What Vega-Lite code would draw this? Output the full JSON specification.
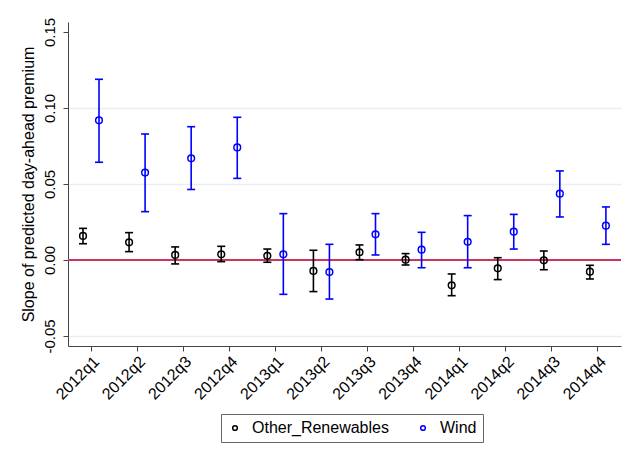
{
  "$schema": "https://vega.github.io/schema/vega-lite/v6.json",
  "width": 553,
  "height": 324,
  "autosize": {"type": "none"},
  "padding": {"left": 68, "top": 22, "right": 10, "bottom": 119},
  "background": "white",
  "config": {
    "view": {"stroke": null},
    "font": "Liberation Sans"
  },
  "data": {
    "values": [
      {"quarter": "2012q1", "series": "Other_Renewables", "est": 0.0158, "lo": 0.0107, "hi": 0.0208},
      {"quarter": "2012q2", "series": "Other_Renewables", "est": 0.0116, "lo": 0.0055, "hi": 0.0180},
      {"quarter": "2012q3", "series": "Other_Renewables", "est": 0.0033, "lo": -0.0026, "hi": 0.0086},
      {"quarter": "2012q4", "series": "Other_Renewables", "est": 0.0037, "lo": -0.0011, "hi": 0.0090},
      {"quarter": "2013q1", "series": "Other_Renewables", "est": 0.0028, "lo": -0.0015, "hi": 0.0072},
      {"quarter": "2013q2", "series": "Other_Renewables", "est": -0.0072, "lo": -0.0208, "hi": 0.0064},
      {"quarter": "2013q3", "series": "Other_Renewables", "est": 0.0051, "lo": 0.0002, "hi": 0.0099},
      {"quarter": "2013q4", "series": "Other_Renewables", "est": 0.0002, "lo": -0.0033, "hi": 0.0042},
      {"quarter": "2014q1", "series": "Other_Renewables", "est": -0.0167, "lo": -0.0235, "hi": -0.0092},
      {"quarter": "2014q2", "series": "Other_Renewables", "est": -0.0055, "lo": -0.0129, "hi": 0.0015},
      {"quarter": "2014q3", "series": "Other_Renewables", "est": -0.0002, "lo": -0.0064, "hi": 0.0059},
      {"quarter": "2014q4", "series": "Other_Renewables", "est": -0.0077, "lo": -0.0125, "hi": -0.0035},
      {"quarter": "2012q1", "series": "Wind", "est": 0.0919, "lo": 0.0643, "hi": 0.1189},
      {"quarter": "2012q2", "series": "Wind", "est": 0.0575, "lo": 0.0318, "hi": 0.0829},
      {"quarter": "2012q3", "series": "Wind", "est": 0.0669, "lo": 0.0464, "hi": 0.0877},
      {"quarter": "2012q4", "series": "Wind", "est": 0.0741, "lo": 0.0537, "hi": 0.0939},
      {"quarter": "2013q1", "series": "Wind", "est": 0.0037, "lo": -0.0226, "hi": 0.0305},
      {"quarter": "2013q2", "series": "Wind", "est": -0.0079, "lo": -0.0257, "hi": 0.0103},
      {"quarter": "2013q3", "series": "Wind", "est": 0.0169, "lo": 0.0033, "hi": 0.0305},
      {"quarter": "2013q4", "series": "Wind", "est": 0.0068, "lo": -0.0051, "hi": 0.0182},
      {"quarter": "2014q1", "series": "Wind", "est": 0.0120, "lo": -0.0051, "hi": 0.0292},
      {"quarter": "2014q2", "series": "Wind", "est": 0.0186, "lo": 0.0072, "hi": 0.0300},
      {"quarter": "2014q3", "series": "Wind", "est": 0.0436, "lo": 0.0283, "hi": 0.0586},
      {"quarter": "2014q4", "series": "Wind", "est": 0.0226, "lo": 0.0103, "hi": 0.0349}
    ]
  },
  "layer": [
    {
      "data": {"values": [{"ref": 0}]},
      "mark": {"type": "rule", "color": "#c8365c", "strokeWidth": 2},
      "encoding": {
        "y": {
          "field": "ref", "type": "quantitative",
          "scale": {"domain": [-0.0566, 0.1566], "nice": false, "zero": false},
          "axis": {
            "title": "Slope of predicted day-ahead premium",
            "titleFontSize": 16, "titleFontWeight": "normal", "titleColor": "black", "titlePadding": 6,
            "values": [-0.05, 0, 0.05, 0.1, 0.15],
            "labelExpr": "replace(format(datum.value, '.2f'), '−', '-')",
            "labelAngle": 270, "labelAlign": "center", "labelBaseline": "bottom",
            "labelFontSize": 15, "labelColor": "black", "labelPadding": 6,
            "tickSize": 5, "tickColor": "#444", "domainColor": "#444",
            "grid": true, "gridColor": "#e6eff1", "gridWidth": 1.5,
            "gridOpacity": {"condition": {"test": "datum.value > 0.12", "value": 0}, "value": 1}
          }
        }
      }
    },
    {
      "mark": {"type": "rule", "strokeWidth": 1.6},
      "encoding": {
        "x": {
          "field": "quarter", "type": "nominal", "sort": null,
          "scale": {"paddingInner": 0, "paddingOuter": 0},
          "axis": {
            "title": null, "labelAngle": 315, "labelFontSize": 16, "labelColor": "black",
            "labelPadding": 2, "tickSize": 5, "tickColor": "#444", "domainColor": "#444", "grid": false
          }
        },
        "xOffset": {"field": "series", "type": "nominal", "scale": {"range": [7, 39], "paddingInner": 0, "paddingOuter": 0}},
        "y": {"field": "lo", "type": "quantitative"},
        "y2": {"field": "hi"},
        "color": {"field": "series", "type": "nominal", "scale": {"domain": ["Other_Renewables", "Wind"], "range": ["#000000", "#0000ff"]}}
      }
    },
    {
      "mark": {"type": "point", "shape": "M-1,0H1", "filled": false, "size": 64, "strokeWidth": 1.6, "opacity": 1},
      "encoding": {
        "x": {"field": "quarter", "type": "nominal", "sort": null},
        "xOffset": {"field": "series", "type": "nominal"},
        "y": {"field": "lo", "type": "quantitative"},
        "color": {"field": "series", "type": "nominal"}
      }
    },
    {
      "mark": {"type": "point", "shape": "M-1,0H1", "filled": false, "size": 64, "strokeWidth": 1.6, "opacity": 1},
      "encoding": {
        "x": {"field": "quarter", "type": "nominal", "sort": null},
        "xOffset": {"field": "series", "type": "nominal"},
        "y": {"field": "hi", "type": "quantitative"},
        "color": {"field": "series", "type": "nominal"}
      }
    },
    {
      "mark": {"type": "point", "shape": "circle", "filled": false, "size": 45, "strokeWidth": 1.5, "opacity": 1},
      "encoding": {
        "x": {"field": "quarter", "type": "nominal", "sort": null},
        "xOffset": {"field": "series", "type": "nominal"},
        "y": {"field": "est", "type": "quantitative"},
        "color": {
          "field": "series", "type": "nominal",
          "legend": {
            "title": null, "orient": "none", "legendX": 153, "legendY": 392,
            "direction": "horizontal", "strokeColor": "#666", "padding": 6,
            "symbolType": "circle", "symbolSize": 22, "symbolStrokeWidth": 1.5, "symbolFillColor": "transparent",
            "labelFontSize": 16, "labelColor": "black", "labelOffset": 9, "columnPadding": 26
          }
        }
      }
    }
  ]
}
